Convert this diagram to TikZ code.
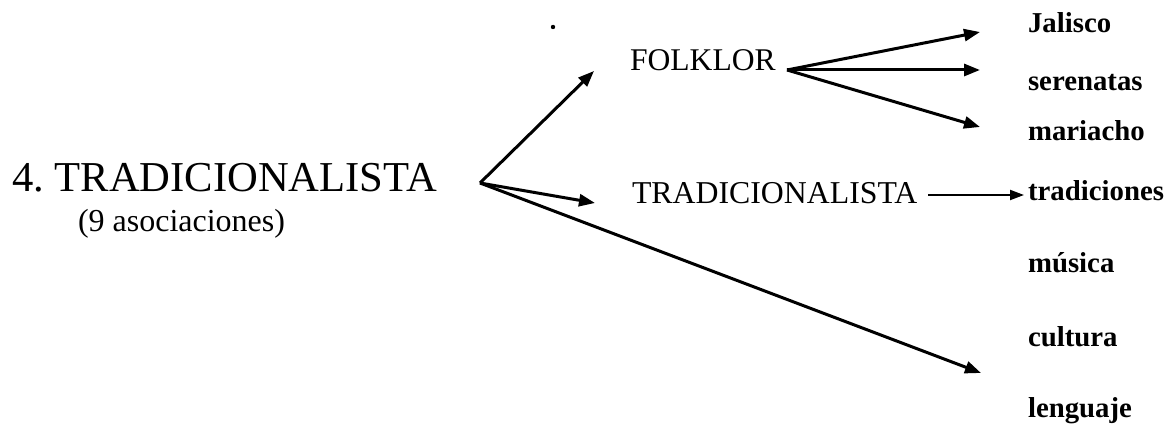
\documentclass[tikz,border=0pt]{standalone}
\usepackage{fontspec}
\setmainfont{Liberation Serif}
\usetikzlibrary{arrows.meta}
\tikzset{
  conn/.style={line width=1.5pt,-{Triangle[length=8pt,width=6pt]}},
  thinconn/.style={line width=1pt,-{Triangle[length=7pt,width=5pt]}},
  lab/.style={anchor=base west,inner sep=0pt,outer sep=0pt},
  leaf/.style={lab,font=\fontsize{14.4pt}{16pt}\selectfont\bfseries},
}
\frenchspacing
\begin{document}
\begin{tikzpicture}[x=0.5pt,y=-0.5pt]
\useasboundingbox (0,0) rectangle (1171,431);
% texts
\node[lab,font=\fontsize{21.3pt}{24pt}\selectfont] (title) at (12,192) {4.\ TRADICIONALISTA};
\node[lab,font=\fontsize{16pt}{19pt}\selectfont] (sub) at (78,232) {(9 asociaciones)};
\node[lab,font=\fontsize{15.8pt}{18pt}\selectfont] (folk) at (630,71) {FOLKLOR};
\node[lab,font=\fontsize{15.9pt}{18pt}\selectfont] (trad) at (632,204) {TRADICIONALISTA};
\node[leaf] (jal) at (1028,33) {Jalisco};
\node[leaf] (ser) at (1028,91) {serenatas};
\node[leaf] (mar) at (1028,141) {mariacho};
\node[leaf] (tra) at (1028,201) {tradiciones};
\node[leaf] (mus) at (1028,273) {música};
\node[leaf] (cul) at (1028,347) {cultura};
\node[leaf] (len) at (1028,418) {lenguaje};
% stray dot
\fill (553,27) circle (2.2);
% connector points
\coordinate (o) at (480,183);
\coordinate (tfolk) at (594,71);
\coordinate (ttrad) at (595,203);
\coordinate (tlong) at (981,373);
\coordinate (f) at (787,70);
\coordinate (tjal) at (980,32);
\coordinate (tser) at (980,70);
\coordinate (tmar) at (980,127);
\coordinate (m) at (928,195);
\coordinate (tm) at (1024,195);
% connectors
\draw[conn] (o) -- (tfolk);
\draw[conn] (o) -- (ttrad);
\draw[conn] (o) -- (tlong);
\draw[conn] (f) -- (tjal);
\draw[conn] (f) -- (tser);
\draw[conn] (f) -- (tmar);
\draw[thinconn] (m) -- (tm);
\end{tikzpicture}
\end{document}
